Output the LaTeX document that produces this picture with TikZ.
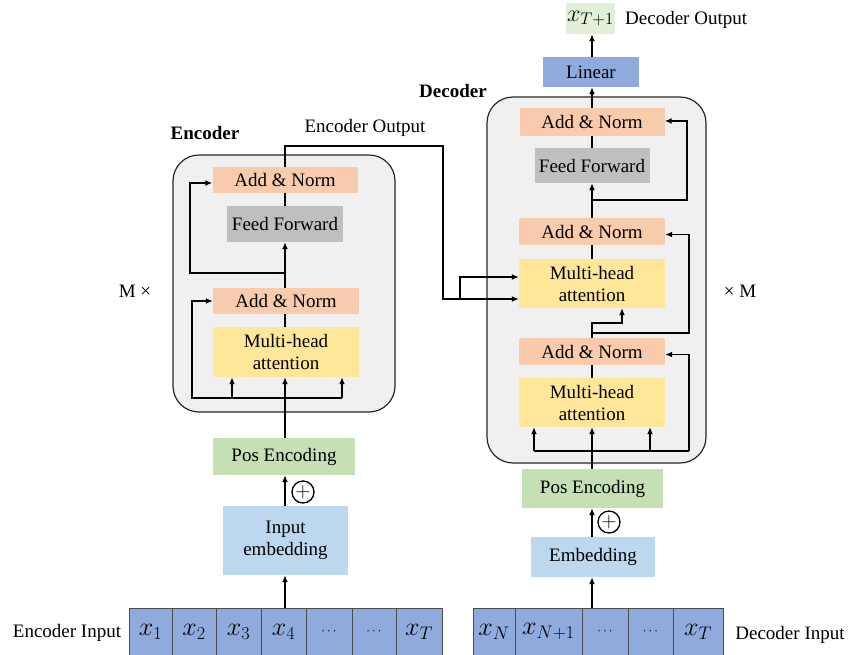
\RequirePackage{fix-cm}
\documentclass[tikz,border=0pt]{standalone}
\usepackage{fontspec}
\setmainfont{Liberation Serif}
\usetikzlibrary{arrows.meta}
\definecolor{annorm}{HTML}{F8CBAD}
\definecolor{mha}{HTML}{FFE699}
\definecolor{ffw}{HTML}{BFBFBF}
\definecolor{posenc}{HTML}{C5E0B4}
\definecolor{embc}{HTML}{BDD7EE}
\definecolor{linc}{HTML}{8FAADC}
\definecolor{outc}{HTML}{E2F0D9}
\definecolor{framec}{HTML}{F0F0F0}
\newcommand{\celldots}{{\fontsize{13}{14}\selectfont$\cdots$}}
\tikzset{
  blk/.style={inner sep=0pt, align=center, font=\fontsize{19}{22}\selectfont},
  an/.style={blk, fill=annorm},
  mh/.style={blk, fill=mha},
  ff/.style={blk, fill=ffw},
  pe/.style={blk, fill=posenc},
  em/.style={blk, fill=embc},
  cell/.style={blk, fill=linc, draw=black!70, line width=0.6pt, font=\fontsize{26}{28}\selectfont},
  lbl/.style={inner sep=0pt, font=\fontsize{19}{22}\selectfont},
  frm/.style={draw=black!85, fill=framec, line width=1.2pt, rounded corners=26pt},
  con/.style={line width=1.8pt},
  arr/.style={con, -{Latex[length=7pt,width=6pt]}},
  plus/.style={circle, draw, line width=1.3pt, minimum size=22pt, inner sep=0pt, font=\fontsize{21}{22}\selectfont}
}
\begin{document}
\begin{tikzpicture}[x=1pt,y=-1pt]
\useasboundingbox (0,0) rectangle (848,654);
% frames
\draw[frm] (173,155) rectangle (395,412);
\draw[frm] (487,97) rectangle (706,463);
% encoder blocks
\node[an, minimum width=145pt, minimum height=26pt] (eAN2) at (285,180) {Add \& Norm};
\node[ff, minimum width=116pt, minimum height=36pt] (eFF) at (285,224) {Feed Forward};
\node[an, minimum width=146pt, minimum height=26pt] (eAN1) at (286,301) {Add \& Norm};
\node[mh, minimum width=146pt, minimum height=50pt] (eMHA) at (286,352) {Multi-head\\attention};
\node[pe, minimum width=142pt, minimum height=37pt] (ePE) at (284,456.5) {Pos Encoding};
\node[em, minimum width=125pt, minimum height=69pt] (eEmb) at (285.5,540.5) {Input\\embedding};
% encoder input cells
\foreach \a/\b/\t [count=\i] in {129/172/{$x_1$},172/216/{$x_2$},216/261/{$x_3$},261/306/{$x_4$},306/352/{\celldots},352/396/{\celldots},396/442/{$x_T$}}{
  \node[cell, minimum width={(\b-\a)*1pt}, minimum height=47pt] (ec\i) at ({(\a+\b)/2},631.5) {\t};
}
% decoder blocks
\node[an, minimum width=145pt, minimum height=28pt] (dAN3) at (592,122) {Add \& Norm};
\node[ff, minimum width=115pt, minimum height=35pt] (dFF) at (592,165.5) {Feed Forward};
\node[an, minimum width=146pt, minimum height=27pt] (dAN2) at (592,231.5) {Add \& Norm};
\node[mh, minimum width=146pt, minimum height=49pt] (dMHA2) at (592,283.5) {Multi-head\\attention};
\node[an, minimum width=146pt, minimum height=27pt] (dAN1) at (592,351.5) {Add \& Norm};
\node[mh, minimum width=146pt, minimum height=49pt] (dMHA1) at (592,402.5) {Multi-head\\attention};
\node[pe, minimum width=141pt, minimum height=39pt] (dPE) at (592.5,488.5) {Pos Encoding};
\node[em, minimum width=124pt, minimum height=40pt] (dEmb) at (593,557) {Embedding};
\node[blk, fill=linc, minimum width=96pt, minimum height=30pt] (dLin) at (591,72) {Linear};
\node[blk, fill=outc, minimum width=49pt, minimum height=31pt, font=\fontsize{24}{26}\selectfont] (dOut) at (590.5,18.5) {$x_{T+1}$};
% decoder input cells
\foreach \a/\b/\t [count=\i] in {473/515/{$x_N$},515/582/{$x_{N+1}$},582/628/{\celldots},628/673/{\celldots},673/723/{$x_T$}}{
  \node[cell, minimum width={(\b-\a)*1pt}, minimum height=47pt] (dc\i) at ({(\a+\b)/2},631.5) {\t};
}
% labels
\node[lbl, font=\fontsize{19}{22}\selectfont\bfseries] (encL) at (205,133) {Encoder};
\node[lbl] (encO) at (365,128) {Encoder Output};
\node[lbl, font=\fontsize{19}{22}\selectfont\bfseries] (decL) at (453,91) {Decoder};
\node[lbl, anchor=west] (decO) at (625,20) {Decoder Output};
\node[lbl] (mL) at (135,291) {M \texttimes};
\node[lbl] (mR) at (740,291) {\texttimes{} M};
\node[lbl] (encI) at (67,633) {Encoder Input};
\node[lbl] (decI) at (790,635) {Decoder Input};
\node[plus] (p1) at (303,492) {$+$};
\node[plus] (p2) at (609,522) {$+$};
% coordinates
\coordinate (eB) at (285,398);
\coordinate (eBL) at (192,398);
\coordinate (eBR) at (342,398);
\coordinate (eBM) at (232,398);
\coordinate (eM) at (285,273);
\coordinate (eML) at (190,273);
\coordinate (eO1) at (285,146);
\coordinate (eO2) at (443,146);
\coordinate (eO3) at (443,299);
\coordinate (eO4) at (460,299);
\coordinate (eO5) at (460,277);
\coordinate (dB) at (592,451);
\coordinate (dBL) at (534,451);
\coordinate (dBM) at (650,451);
\coordinate (dBR) at (689,451);
\coordinate (dK1) at (592,323);
\coordinate (dK2) at (622,323);
\coordinate (dK3) at (592,333);
\coordinate (dK4) at (689,333);
\coordinate (dF1) at (592,200);
\coordinate (dF2) at (687,200);
% encoder connectors
\draw[arr] (ec4.north -| eB) -- (eEmb.south -| eB);
\draw[arr] (eEmb.north -| eB) -- (ePE.south -| eB);
\draw[arr] (ePE.north -| eB) -- (eMHA.south -| eB);
\draw[con] (eMHA.north -| eB) -- (eAN1.south -| eB);
\draw[arr] (eAN1.north -| eB) -- (eFF.south -| eB);
\draw[con] (eFF.north -| eB) -- (eAN2.south -| eB);
\draw[arr] (eBR) -- (eBL) |- (eAN1.west);
\draw[arr] (eBM) -- (eMHA.south -| eBM);
\draw[arr] (eBR) -- (eMHA.south -| eBR);
\draw[arr] (eM) -- (eML) |- ([yshift=-3pt]eAN2.west);
\draw[con] (eAN2.north -| eB) -- (eO1) -- (eO2) -- (eO3) -- (eO4);
\draw[arr] (eO3) -- (dMHA2.west |- eO3);
\draw[arr] (eO4) -- (eO5) -- (dMHA2.west |- eO5);
% decoder connectors
\draw[arr] (dc3.north -| dB) -- (dEmb.south -| dB);
\draw[arr] (dEmb.north -| dB) -- (dPE.south -| dB);
\draw[arr] (dPE.north -| dB) -- (dMHA1.south -| dB);
\draw[con] (dMHA1.north) -- (dAN1.south);
\draw[con] (dBL) -- (dBR);
\draw[arr] (dBL) -- (dMHA1.south -| dBL);
\draw[arr] (dBM) -- (dMHA1.south -| dBM);
\draw[arr] (dBR) |- ([yshift=-3pt]dAN1.east);
\draw[arr] (dAN1.north) -- (dK1) -- (dK2) -- (dMHA2.south -| dK2);
\draw[arr] (dK3) -- (dK4) |- ([yshift=-3pt]dAN2.east);
\draw[con] (dMHA2.north) -- (dAN2.south);
\draw[arr] (dAN2.north) -- (dFF.south);
\draw[arr] (dF1) -- (dF2) |- ([yshift=1pt]dAN3.east);
\draw[con] (dFF.north) -- (dAN3.south);
\draw[arr] (dAN3.north) -- (dLin.south -| dAN3);
\draw[arr] (dLin.north -| dAN3) -- (dOut.south -| dAN3);
\end{tikzpicture}
\end{document}
